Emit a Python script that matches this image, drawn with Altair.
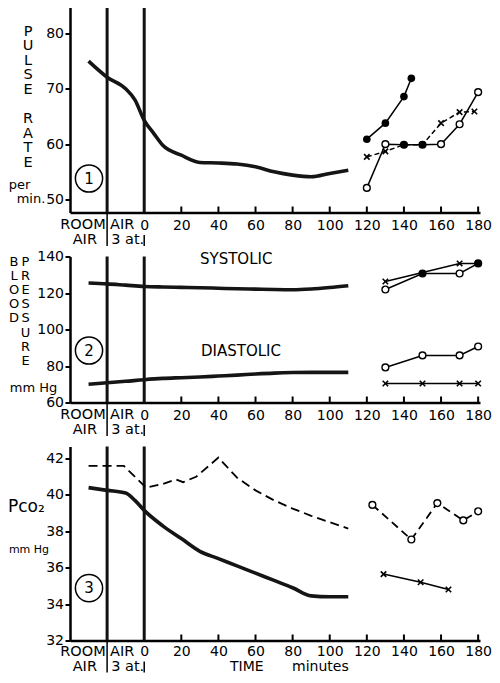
import altair as alt
import pandas as pd

FONT = "DejaVu Sans"

# ---------------- data ----------------
# Panel 1: pulse rate (per min)
pulse_t = [-30, -20, -10, -5, 0, 5, 10, 20, 30, 40, 50, 60, 70, 80, 90, 100, 110]
pulse_v = [75.0, 72.1, 70.0, 68.0, 64.3, 62.0, 59.8, 58.0, 56.7, 56.6, 56.4, 55.9, 55.0, 54.4, 54.1, 54.7, 55.3]
p1_filled_t = [120, 130, 140, 144]
p1_filled_v = [60.9, 63.8, 68.6, 71.9]
p1_open_t = [120, 130, 140, 150, 160, 170, 180]
p1_open_v = [52.1, 60.0, 59.9, 59.9, 60.0, 63.6, 69.4]
p1_open_solid = [0, 0, 1, 1, 0, 0, 0]
p1_cross_t = [120, 130, 140, 150, 160, 170, 178]
p1_cross_v = [57.7, 58.7, 59.9, 59.9, 63.8, 65.8, 65.9]
p1_cross_mark = [1, 1, 0, 0, 1, 1, 1]

# Panel 2: blood pressure (mm Hg)
bp_t = [-30, -20, -10, 0, 10, 20, 30, 40, 50, 60, 70, 80, 90, 100, 110]
sys_v = [125.5, 125.0, 124.3, 123.6, 123.3, 123.1, 122.9, 122.6, 122.3, 122.1, 121.9, 121.8, 122.2, 123.0, 124.0]
dia_v = [70.0, 70.8, 71.6, 72.5, 73.2, 73.6, 74.0, 74.5, 75.0, 75.6, 76.1, 76.4, 76.5, 76.5, 76.5]
sys_open_t = [130, 150, 170, 180]
sys_open_v = [121.9, 130.7, 130.7, 136.2]
sys_open_solid = [0, 1, 0, 1]
sys_cross_t = [130, 170, 180]
sys_cross_v = [126.3, 136.2, 136.2]
sys_cross_mark = [1, 1, 0]
dia_open_t = [130, 150, 170, 180]
dia_open_v = [79.2, 85.8, 85.8, 90.7]
dia_cross_t = [130, 150, 170, 180]
dia_cross_v = [70.4, 70.4, 70.4, 70.4]

# Panel 3: Pco2 (mm Hg)
pco_t = [-30, -20, -10, -5, 0, 10, 20, 30, 40, 50, 60, 70, 80, 90, 100, 110]
pco_v = [40.4, 40.25, 40.1, 39.7, 39.15, 38.3, 37.6, 36.9, 36.5, 36.1, 35.7, 35.3, 34.9, 34.45, 34.4, 34.4]
pco_dash_t = [-30, -11, 1, 10, 17, 21, 28, 40, 50, 60, 70, 80, 90, 100, 110]
pco_dash_v = [41.6, 41.6, 40.4, 40.6, 40.85, 40.7, 41.0, 42.05, 40.95, 40.25, 39.7, 39.25, 38.85, 38.5, 38.15]
p3_open_t = [123, 144, 158, 172, 180]
p3_open_v = [39.45, 37.55, 39.55, 38.6, 39.1]
p3_cross_t = [129, 149, 164]
p3_cross_v = [35.65, 35.2, 34.8]

# axis tick values / labels
x_label_values = [0, 20, 40, 60, 80, 100, 120, 140, 160, 180]
x_inner_ticks = [20, 40, 60, 80, 100, 120, 140, 160, 180]
phase_lines = [-20, 0]
p1_ticks = [50, 60, 70, 80]
p2_ticks = [60, 80, 100, 120, 140]
p3_ticks = [32, 34, 36, 38, 40, 42]
row1_center = [("ROOM", -33.0)]
row2_center = [("AIR", -32.0)]
row1_left = [("AIR", -18.4)]
row2_left = [("3 at.", -17.8)]

# stacked (vertical) axis titles
pulse_letters = ["P", "U", "L", "S", "E", "", "R", "A", "T", "E"]
blood_letters = ["B", "L", "O", "O", "D"]
pressure_letters = ["P", "R", "E", "S", "S", "U", "R", "E"]

# ---------------- helpers ----------------
W = 410
XSCALE = alt.Scale(domain=[-40, 181], nice=False, zero=False)
XPATH = "M-1,-1L1,1M-1,1L1,-1"
ONE = pd.DataFrame({"k": [0]})
TICKFS = 14


def make_xaxis(pad):
    return alt.Axis(values=x_label_values, title=None, ticks=False, tickSize=0,
                    labelPadding=pad, labelBaseline="middle", labelFontSize=TICKFS,
                    labelColor="black", domainColor="black", domainWidth=2.5,
                    grid=False, labelAngle=0, labelFlush=False, labelOverlap=False,
                    labelFont=FONT)


def df(t, v, **extra):
    d = {"t": t, "v": v}
    d.update(extra)
    return pd.DataFrame(d)


def text(s, x, y, size, align="center"):
    return alt.Chart(ONE).mark_text(text=s, fontSize=size, font=FONT, color="black",
                                    align=align, baseline="middle").encode(
        x=alt.value(x), y=alt.value(y))


def stacked(letters, x, y0, step, size):
    rows = [(c, y0 + i * step) for i, c in enumerate(letters) if c]
    d = pd.DataFrame({"ch": [r[0] for r in rows], "py": [r[1] for r in rows]})
    return alt.Chart(d).mark_text(fontSize=size, font=FONT, color="black", align="center",
                                  baseline="middle").encode(
        x=alt.value(x), y=alt.Y("py:Q", scale=None), text="ch:N")


def panel_number(s, x, y):
    c = alt.Chart(ONE).mark_point(shape="circle", size=740, filled=False, color="black",
                                  strokeWidth=1.5, opacity=1).encode(x=alt.value(x), y=alt.value(y))
    return [c, text(s, x, y, 15)]


def make_panel(h, ydom, yvals, build, r1=12.5, r2=27.5):
    xa = make_xaxis(r1)

    def X():
        return alt.X("t:Q", scale=XSCALE, axis=xa)

    ys = alt.Scale(domain=ydom, nice=False, zero=False)
    ya = alt.Axis(values=yvals, title=None, tickSize=5, tickWidth=2, tickColor="black",
                  labelPadding=1.5, domainColor="black", domainWidth=2.5, labelFontSize=TICKFS,
                  labelColor="black", grid=False, labelFlush=False, labelOverlap=False,
                  labelFont=FONT)

    def Y():
        return alt.Y("v:Q", scale=ys, axis=ya)

    layers = []
    layers.append(alt.Chart(pd.DataFrame({"t": phase_lines})).mark_rule(
        strokeWidth=3, color="#111").encode(x=X()))
    layers.append(alt.Chart(pd.DataFrame({"t": x_inner_ticks})).mark_rule(
        strokeWidth=2, color="black").encode(x=X(), y=alt.value(h), y2=alt.value(h - 6)))
    layers.append(alt.Chart(pd.DataFrame({"t": [-20]})).mark_rule(
        strokeWidth=1.5, color="black").encode(x=X(), y=alt.value(h), y2=alt.value(h + r2 + 6)))
    layers.append(alt.Chart(pd.DataFrame({"t": [0]})).mark_rule(
        strokeWidth=1.5, color="black").encode(x=X(), y=alt.value(h + r2 - 5), y2=alt.value(h + r2 + 6)))
    for rows, yy, al in [(row1_center, h + r1, "center"), (row2_center, h + r2, "center"),
                         (row1_left, h + r1, "left"), (row2_left, h + r2, "left")]:
        d = pd.DataFrame({"lab": [r[0] for r in rows], "t": [r[1] for r in rows]})
        layers.append(alt.Chart(d).mark_text(fontSize=14.5, font=FONT, color="black", align=al,
                                             baseline="middle").encode(
            x=X(), y=alt.value(yy), text="lab:N"))
    layers += build(X, Y, h)
    return alt.layer(*layers).properties(width=W, height=h)


def thick(d, X, Y):
    return alt.Chart(d).mark_line(strokeWidth=3.6, color="#151515", interpolate="monotone").encode(
        x=X(), y=Y())


def thin(d, X, Y, dash=None, w=1.5):
    kw = dict(strokeWidth=w, color="black")
    if dash:
        kw["strokeDash"] = dash
    return alt.Chart(d).mark_line(**kw).encode(x=X(), y=Y())


def open_pts(d, X, Y):
    if "s" not in d.columns:
        d = d.assign(s=0)
    return alt.Chart(d).mark_point(shape="circle", size=46, filled=True, stroke="black",
                                   strokeWidth=1.4, opacity=1).encode(
        x=X(), y=Y(),
        fill=alt.condition("datum.s == 1", alt.value("black"), alt.value("white")))


def filled_pts(d, X, Y):
    return alt.Chart(d).mark_point(shape="circle", size=58, filled=True, color="black",
                                   opacity=1).encode(x=X(), y=Y())


def cross_pts(d, X, Y):
    if "m" in d.columns:
        ch = alt.Chart(d).transform_filter("datum.m == 1")
    else:
        ch = alt.Chart(d)
    return ch.mark_point(shape=XPATH, size=30, filled=False, color="black",
                         strokeWidth=1.6, opacity=1).encode(x=X(), y=Y())


# ---------------- panel 1 ----------------
def build1(X, Y, h):
    L = [thick(df(pulse_t, pulse_v), X, Y)]
    fd = df(p1_filled_t, p1_filled_v)
    od = df(p1_open_t, p1_open_v, s=p1_open_solid)
    cd = df(p1_cross_t, p1_cross_v, m=p1_cross_mark)
    L += [thin(fd, X, Y), thin(cd, X, Y, dash=[5, 3]), thin(od, X, Y),
          filled_pts(fd, X, Y), cross_pts(cd, X, Y), open_pts(od, X, Y)]
    L.append(stacked(pulse_letters, -42, 26, 14.6, 14.5))
    L.append(text("per", -50.5, 179, 13))
    L.append(text("min.", -39, 193, 13))
    L += panel_number("1", 19, 173)
    return L


# ---------------- panel 2 ----------------
def build2(X, Y, h):
    L = [thick(df(bp_t, sys_v), X, Y), thick(df(bp_t, dia_v), X, Y)]
    so = df(sys_open_t, sys_open_v, s=sys_open_solid)
    sc = df(sys_cross_t, sys_cross_v, m=sys_cross_mark)
    do = df(dia_open_t, dia_open_v)
    dc = df(dia_cross_t, dia_cross_v)
    L += [thin(sc, X, Y), thin(so, X, Y), thin(do, X, Y), thin(dc, X, Y, w=1.3),
          cross_pts(sc, X, Y), open_pts(so, X, Y), open_pts(do, X, Y), cross_pts(dc, X, Y)]
    L.append(text("SYSTOLIC", 130, 2, 15, align="left"))
    L.append(text("DIASTOLIC", 131, 94, 15, align="left"))
    L.append(stacked(blood_letters, -56, 5, 14, 13))
    L.append(stacked(pressure_letters, -44.5, 5, 14.2, 13))
    L.append(text("mm Hg", -36.5, 131, 13))
    L += panel_number("2", 19, 94)
    return L


# ---------------- panel 3 ----------------
def build3(X, Y, h):
    L = [thick(df(pco_t, pco_v), X, Y), thin(df(pco_dash_t, pco_dash_v), X, Y, dash=[9, 5], w=1.8)]
    o3 = df(p3_open_t, p3_open_v)
    c3 = df(p3_cross_t, p3_cross_v)
    L += [thin(o3, X, Y, dash=[8, 5], w=1.8), thin(c3, X, Y), open_pts(o3, X, Y), cross_pts(c3, X, Y)]
    L.append(text("Pco₂", -62, 60, 17, align="left"))
    L.append(text("mm Hg", -41, 103, 11))
    L.append(text("TIME", 160, h + 26.5, 14, align="left"))
    L.append(text("minutes", 222, h + 26.5, 14, align="left"))
    L += panel_number("3", 19, 141.6)
    return L


p1 = make_panel(207, [47.65, 85.06], p1_ticks, build1)
p2 = make_panel(146, [60, 140], p2_ticks, build2)
p3 = make_panel(194, [32, 42.66], p3_ticks, build3, r1=11, r2=26)

chart = alt.vconcat(p1, p2, p3, spacing=44, bounds="flush").properties(
    padding={"left": 0, "top": -4.5, "right": 0, "bottom": 0}
).configure(font=FONT).configure_view(stroke=None)

chart.save("out.html", embed_options={"renderer": "svg", "actions": False})
